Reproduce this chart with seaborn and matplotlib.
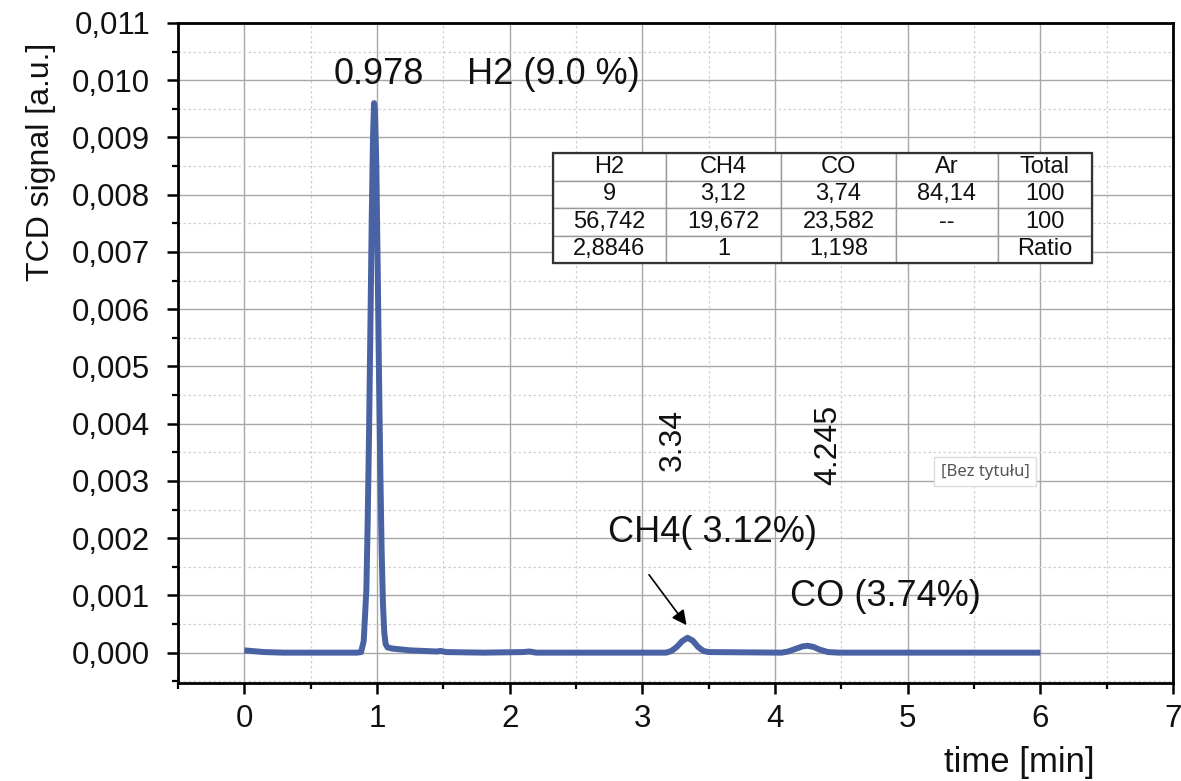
import matplotlib
matplotlib.use("Agg")
import matplotlib.pyplot as plt
import matplotlib.ticker as mticker
from matplotlib.patches import Rectangle
import seaborn as sns
import pandas as pd

# ---- data ----
time_min = [0.00, 0.05, 0.15, 0.30, 0.60, 0.85, 0.88, 0.90, 0.92, 0.93, 0.94, 0.95,
            0.96, 0.97, 0.978, 0.985, 0.995, 1.005, 1.015, 1.025, 1.035, 1.045, 1.055,
            1.065, 1.08, 1.12, 1.25, 1.45, 1.48, 1.52, 1.80, 2.10, 2.15, 2.20,
            3.18, 3.22, 3.26, 3.30, 3.34, 3.38, 3.42, 3.46, 3.50,
            4.05, 4.10, 4.16, 4.21, 4.245, 4.29, 4.34, 4.40, 4.48, 6.00]
tcd_signal = [0.00004, 0.00003, 0.00001, 0.00000, 0.00000, 0.00000, 0.00001, 0.00020,
              0.00110, 0.00230, 0.00380, 0.00560, 0.00750, 0.00900, 0.00960, 0.00945,
              0.00850, 0.00680, 0.00490, 0.00320, 0.00180, 0.00085, 0.00035, 0.00015,
              0.00009, 0.00007, 0.00004, 0.00002, 0.00003, 0.00001, 0.00000, 0.00001,
              0.00002, 0.00000,
              0.00000, 0.00003, 0.00010, 0.00020, 0.00026, 0.00021, 0.00010, 0.00003,
              0.00001,
              0.00000, 0.00002, 0.00007, 0.00011, 0.00012, 0.00010, 0.00005, 0.00001,
              0.00000, 0.00000]

table_header = ["H2", "CH4", "CO", "Ar", "Total"]
table_row_pct = ["9", "3,12", "3,74", "84,14", "100"]
table_row_norm = ["56,742", "19,672", "23,582", "--", "100"]
table_row_ratio = ["2,8846", "1", "1,198", "", "Ratio"]

peak_labels = ["0.978", "3.34", "4.245"]
gas_labels = ["H2 (9.0 %)", "CH4( 3.12%)", "CO (3.74%)"]

x_ticks = [0, 1, 2, 3, 4, 5, 6, 7]
y_ticks = [0.000, 0.001, 0.002, 0.003, 0.004, 0.005, 0.006, 0.007, 0.008, 0.009, 0.010, 0.011]

# ---- plotting ----
sns.set_theme(style="white")
plt.rcParams["font.family"] = ["Liberation Sans", "DejaVu Sans"]

fig = plt.figure(figsize=(11.81, 7.81), dpi=100)
ax = fig.add_axes([0.1507, 0.1255, 0.8425, 0.8451])

df = pd.DataFrame({"time": time_min, "signal": tcd_signal})
sns.lineplot(data=df, x="time", y="signal", ax=ax, color="#4862a3", linewidth=4.3,
             zorder=3, solid_joinstyle="round", solid_capstyle="butt")

ax.set_xlim(-0.5, 7)
ax.set_ylim(-0.00053, 0.011)
ax.set_xticks(x_ticks)
ax.set_yticks(y_ticks)
ax.xaxis.set_minor_locator(mticker.MultipleLocator(0.5))
ax.yaxis.set_minor_locator(mticker.MultipleLocator(0.0005))
ax.yaxis.set_major_formatter(mticker.FuncFormatter(lambda v, p: f"{v:.3f}".replace(".", ",")))
ax.xaxis.set_major_formatter(mticker.FuncFormatter(lambda v, p: f"{int(round(v))}"))

ax.grid(which="major", color="#a8a8a8", linewidth=1.0, linestyle="-", zorder=0)
ax.grid(which="minor", color="#d0d0d0", linewidth=0.9, linestyle=(0, (2, 2)), zorder=0)
ax.set_axisbelow(True)

for s in ax.spines.values():
    s.set_visible(True)
    s.set_color("black")
    s.set_linewidth(2.0)

ax.tick_params(axis="both", which="major", direction="out", length=8, width=1.8,
               color="black", labelsize=22.5, labelcolor="#111111", pad=7)
ax.tick_params(axis="y", which="major", pad=12)
ax.tick_params(axis="both", which="minor", direction="out", length=4.5, width=1.6,
               color="black")
ax.tick_params(axis="x", which="both", bottom=True, top=False)
ax.tick_params(axis="y", which="both", left=True, right=False)

ax.set_xlabel("time [min]", fontsize=25, loc="right", color="#111111")
ax.xaxis.set_label_coords(0.9216, -0.096)
ax.set_ylabel("TCD signal [a.u.]", fontsize=23, color="#111111")
ax.yaxis.set_label_coords(-0.123, 0.79)

# annotations
ax.text(1.015, 0.0101, peak_labels[0], fontsize=26, ha="center", va="center", color="#111111")
ax.text(1.677, 0.0101, gas_labels[0], fontsize=26, ha="left", va="center", color="#111111")
ax.text(3.233, 0.00372, peak_labels[1], fontsize=23, ha="center", va="center",
        rotation=90, color="#111111")
ax.text(4.398, 0.00362, peak_labels[2], fontsize=23, ha="center", va="center",
        rotation=90, color="#111111")
ax.text(2.744, 0.0021, gas_labels[1], fontsize=26, ha="left", va="center", color="#111111")
ax.text(4.113, 0.00098, gas_labels[2], fontsize=26, ha="left", va="center", color="#111111")
ax.annotate("", xy=(3.346, 0.00044), xytext=(3.038, 0.0014),
            arrowprops=dict(arrowstyle="-|>", color="black", lw=1.2,
                            mutation_scale=22), zorder=5)

ax.text(5.586, 0.00316, "[Bez tytułu]", fontsize=12, ha="center", va="center",
        color="#555555", family=["Noto Sans", "DejaVu Sans"],
        bbox=dict(boxstyle="square,pad=0.4", facecolor="white", edgecolor="#dddddd",
                  linewidth=1.0), zorder=6)

# table
col_px = [113, 115, 115, 102, 94]
col_w = [c / 995 for c in col_px]
tbl = ax.table(cellText=[table_header, table_row_pct, table_row_norm, table_row_ratio],
               cellLoc="center", colWidths=col_w,
               bbox=[0.3769, 0.636, 0.5417, 0.167], zorder=7)
tbl.auto_set_font_size(False)
tbl.set_fontsize(17)
for (r, c), cell in tbl.get_celld().items():
    cell.set_edgecolor("#9a9a9a")
    cell.set_linewidth(1.0)
    cell.set_facecolor("white")
    cell.get_text().set_color("#111111")
ax.add_patch(Rectangle((0.3769, 0.636), 0.5417, 0.167, transform=ax.transAxes,
                       fill=False, edgecolor="#333333", linewidth=1.6, zorder=8))

fig.savefig("out.png", dpi=100)
